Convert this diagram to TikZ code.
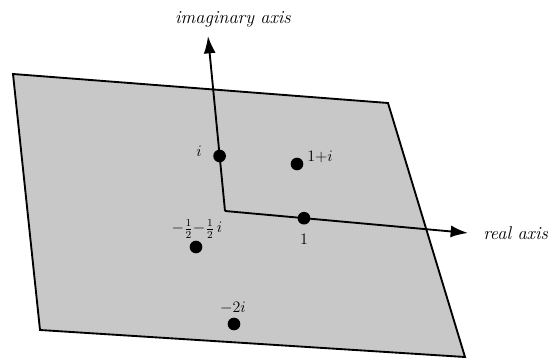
\documentclass[tikz,border=0pt]{standalone}
\usepackage{amsmath}
\usetikzlibrary{arrows.meta}
\definecolor{planegray}{RGB}{200,200,200}
\begin{document}
\begin{tikzpicture}[x=0.75pt,y=-0.75pt,
  plane/.style={fill=planegray,draw=black,line width=1.4pt,line join=miter},
  axisline/.style={line width=1.4pt,-{Latex[length=13pt,width=9pt]}},
  dot/.style={circle,fill=black,inner sep=0pt,minimum size=9.5pt},
  lbl/.style={font=\fontsize{13.8}{16}\selectfont\itshape,inner sep=0pt},
  mlbl/.style={font=\fontsize{12}{14}\selectfont,inner sep=0pt}]
\useasboundingbox (0,0) rectangle (554,359);
% plane
\coordinate (pa) at (13,74);
\coordinate (pb) at (388,103);
\coordinate (pc) at (465,357);
\coordinate (pd) at (40,330);
\draw[plane] (pa) -- (pb) -- (pc) -- (pd) -- cycle;
% axes
\coordinate (O) at (225,211);
\coordinate (itip) at (208,36);
\coordinate (rtip) at (468,233);
\draw[axisline] (O) -- (itip);
\draw[axisline] (O) -- (rtip);
\node[lbl,anchor=base] (imlab) at (233,24) {imaginary axis};
\node[lbl,anchor=base west] (relab) at (483,240) {real axis};
% points
\node[dot] (pi) at (219.6,156) {};
\node[dot] (p1i) at (297,164) {};
\node[dot] (p1) at (304,218.2) {};
\node[dot] (ph) at (196,247) {};
\node[dot] (p2) at (234,324) {};
% labels
\node[mlbl,anchor=base] (li) at (199,157) {$i$};
\node[mlbl,anchor=base west] (l1i) at (307,162) {$1{+}i$};
\node[mlbl,anchor=base] (l1) at (304,245) {$1$};
\node[mlbl,anchor=base] (lh) at (197,233) {$-\tfrac{1}{2}{-}\tfrac{1}{2}\,i$};
\node[mlbl,anchor=base] (l2) at (233,313) {$-2i$};
\end{tikzpicture}
\end{document}
